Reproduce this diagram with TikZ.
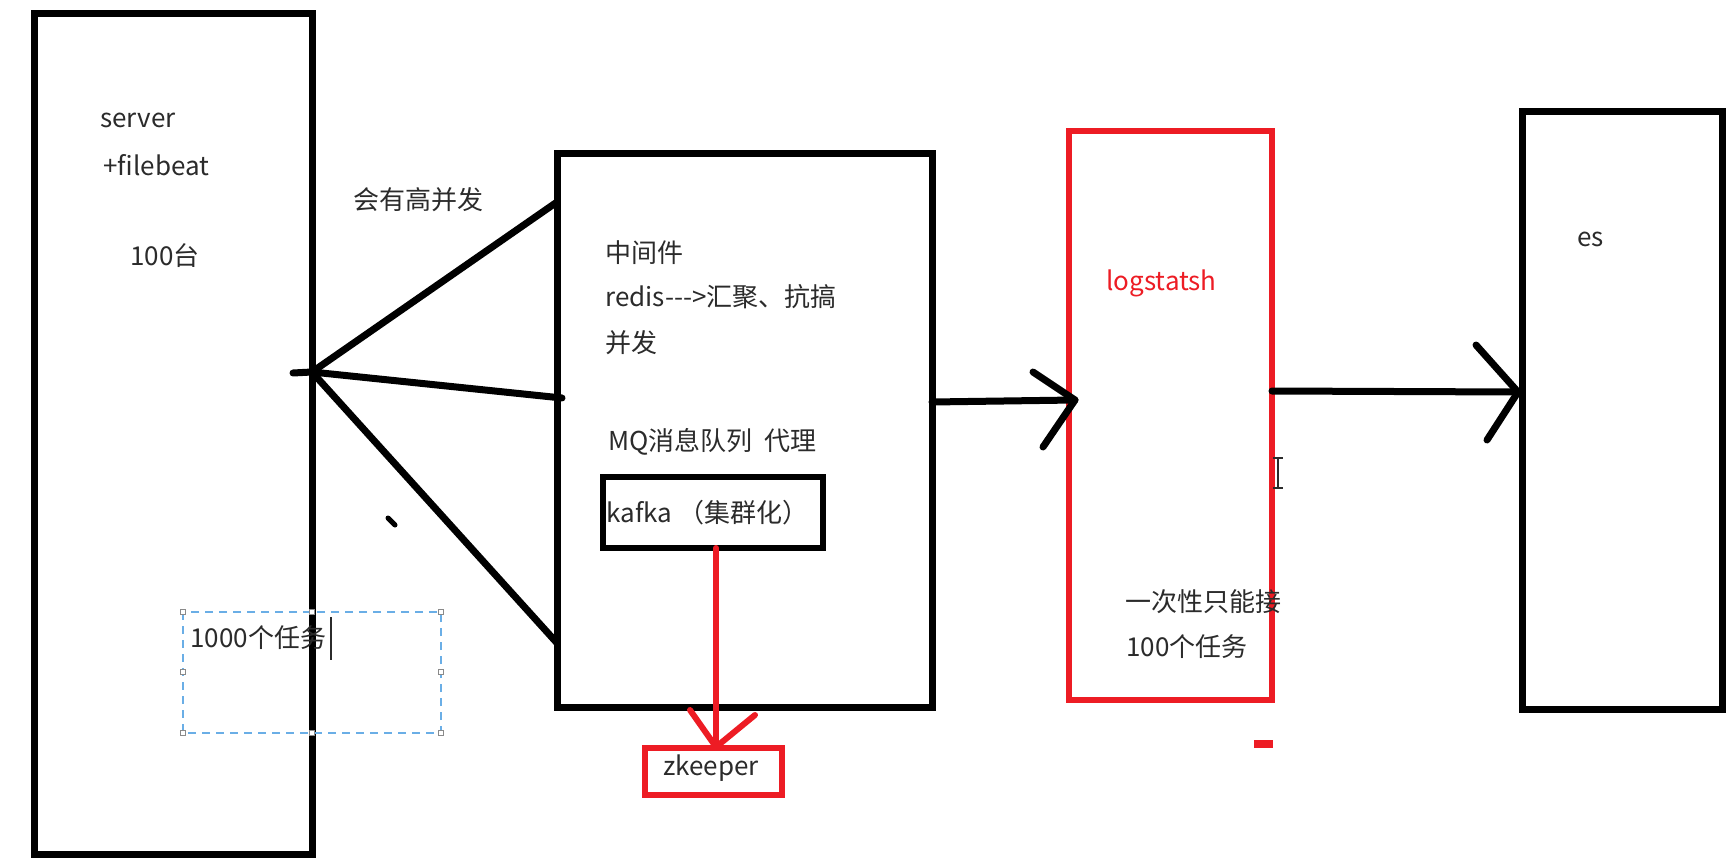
\documentclass[tikz,border=0pt]{standalone}
\usepackage{fontspec}
\newfontfamily\cjk{Noto Sans CJK SC}
\usetikzlibrary{fit}
\definecolor{pred}{HTML}{ED1C24}
\definecolor{txt}{HTML}{2B2B2B}
\definecolor{selblue}{HTML}{6AAEE6}
\definecolor{handle}{HTML}{8A8A8A}
\begin{document}
\begin{tikzpicture}[x=0.5pt,y=-0.5pt,
  bbox/.style={draw=black, line width=3.5pt, inner sep=0pt},
  rbox/.style={draw=pred, line width=3pt, inner sep=0pt},
  kbox/.style={draw=black, line width=3pt, inner sep=0pt},
  tx/.style={anchor=west, inner sep=0pt, font=\cjk\fontsize{13pt}{15pt}\selectfont, text=txt},
  conn/.style={draw=black, line width=3.5pt, line cap=round, line join=round},
  rconn/.style={draw=pred, line width=3pt, line cap=round, line join=round},
  hdl/.style={draw=handle, fill=white, line width=0.5pt, minimum size=2.5pt, inner sep=0pt}
]
\useasboundingbox[fill=white] (0,0) rectangle (1730,867);

% boxes
\node[bbox, fit={(34,13) (312,854)}] (server) {};
\node[bbox, fit={(557,153) (932,707)}] (mid) {};
\node[kbox, fit={(603,477) (823,548)}] (kafka) {};
\node[rbox, fit={(645,748) (782,795)}] (zk) {};
\node[rbox, fit={(1069,131) (1272,700)}] (logst) {};
\node[bbox, fit={(1522,111) (1722,709)}] (es) {};

% texts
\node[tx] (t1) at (100,120) {server};
\node[tx] (t2) at (103,165) {+filebeat};
\node[tx] (t3) at (130,256) {100台};
\node[tx] (t4) at (353,200) {会有高并发};
\node[tx] (t5) at (605,253) {中间件};
\node[tx] (t6) at (605,297) {redis-{}-{}-{}>汇聚、抗搞};
\node[tx] (t7) at (605,343) {并发};
\node[tx] (t8) at (608,442) {MQ消息队列~~代理};
\node[tx] (t9) at (606,513) {kafka （集群化）};
\node[tx, anchor=center] (t10) at (711,768) {zkeeper};
\node[tx, text=pred] (t11) at (1106,283) {logstatsh};
\node[tx] (t12) at (1125,602) {一次性只能接};
\node[tx] (t13) at (1126,647) {100个任务};
\node[tx] (t14) at (1577,239) {es};

% fan-out lines from server
\coordinate (hub) at (312,372);
\coordinate (stub) at (293,373);
\coordinate (m1) at (557,202);
\coordinate (m2) at (562,398);
\coordinate (m3) at (557,643);
\draw[conn] (stub) -- (hub);
\draw[conn] (hub) -- (m1);
\draw[conn] (hub) -- (m2);
\draw[conn] (hub) -- (m3);
\draw[line width=2.5pt, line cap=round] (388,518) -- (395,525);

% kafka -> zkeeper
\coordinate (k1) at (716,548);
\coordinate (k2) at (716,747);
\coordinate (ka) at (690,710);
\coordinate (kb) at (755,715);
\draw[rconn] (k1) -- (k2);
\draw[rconn] (ka) -- (k2) -- (kb);

% mid -> logstash
\coordinate (a1s) at (932,402);
\coordinate (a1e) at (1075,400);
\coordinate (a1u) at (1033,372);
\coordinate (a1d) at (1043,447);
\draw[conn] (a1s) -- (a1e);
\draw[conn] (a1u) -- (a1e) -- (a1d);

% logstash -> es
\coordinate (a2s) at (1272,391);
\coordinate (a2e) at (1518,392);
\coordinate (a2u) at (1476,345);
\coordinate (a2d) at (1487,440);
\draw[conn] (a2s) -- (a2e);
\draw[conn] (a2u) -- (a2e) -- (a2d);

% small red mark
\fill[pred] (1254,740) rectangle (1273,748);

% I-beam cursor
\draw[txt, line width=0.8pt] (1278,458) -- (1278,488)
  (1273,458) -- (1283,458) (1273,488) -- (1283,488);

% selected text box
\draw[selblue, line width=1pt, dash pattern=on 4pt off 3pt] (183,612) rectangle (441,733);
\node[tx] (t15) at (190,638) {1000个任务};
\draw[txt, line width=0.7pt] (331,617) -- (331,660);
\foreach \p in {(183,612),(312,612),(441,612),(183,672),(441,672),(183,733),(312,733),(441,733)}
  \node[hdl] at \p {};
\end{tikzpicture}
\end{document}
